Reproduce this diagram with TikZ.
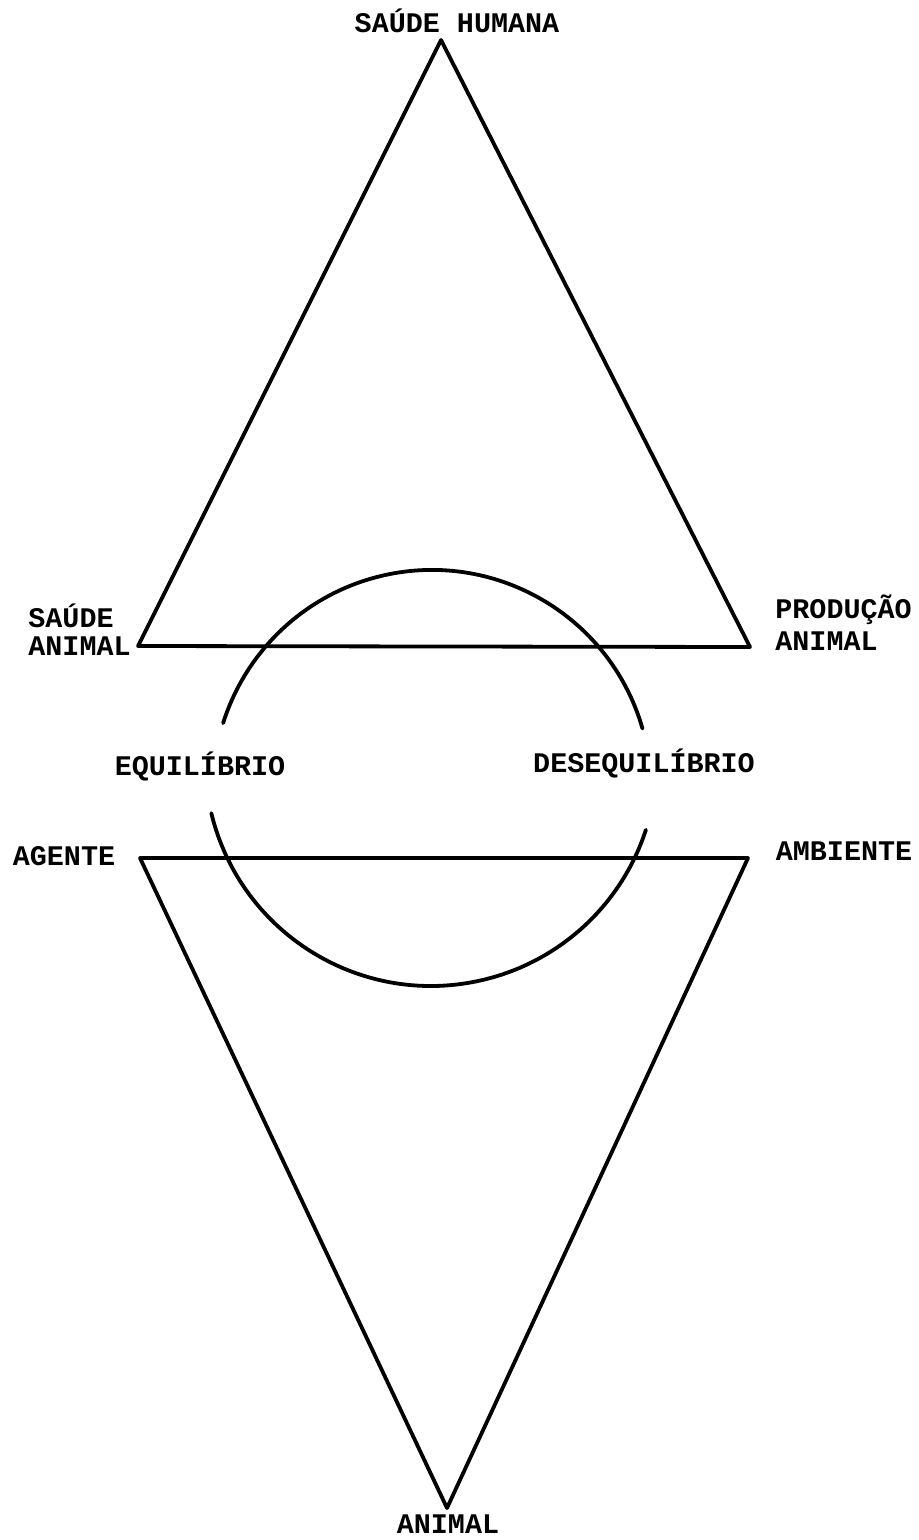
\documentclass[tikz,border=0pt]{standalone}
\usepackage{fontspec}
\newfontfamily\twfont{Liberation Mono}
\begin{document}
\begin{tikzpicture}[x=0.5pt,y=-0.5pt,
  lbl/.style={font=\twfont\bfseries\fontsize{14.2}{16}\selectfont, inner sep=0pt, anchor=base},
  lblw/.style={lbl, anchor=base west},
  edge/.style={line width=1.9pt, line join=round, line cap=round}]
\useasboundingbox (0,0) rectangle (918,1540);
% labels
\node[lbl] (sh) at (457,33) {SAÚDE HUMANA};
\node[lblw] (sa1) at (28,627) {SAÚDE};
\node[lblw] (sa2) at (28,655) {ANIMAL};
\node[lblw] (pa1) at (775,618) {PRODUÇÃO};
\node[lblw] (pa2) at (775,650) {ANIMAL};
\node[lbl] (eq) at (200,775) {EQUILÍBRIO};
\node[lbl] (deq) at (644,772) {DESEQUILÍBRIO};
\node[lbl] (ag) at (64,865) {AGENTE};
\node[lbl] (amb) at (844,860) {AMBIENTE};
\node[lbl] (an) at (448,1533) {ANIMAL};
% top triangle
\coordinate (t1) at (441,40);
\coordinate (t2) at (138,646);
\coordinate (t3) at (750,647);
\draw[edge] (t1) -- (t2) -- (t3) -- cycle;
% bottom triangle
\coordinate (b1) at (140,858);
\coordinate (b2) at (748,858);
\coordinate (b3) at (447,1508);
\draw[edge] (b1) -- (b2) -- (b3) -- cycle;
% arcs
\coordinate (a1) at (642.5,728.6);
\draw[edge] (a1) arc[start angle=16, end angle=162.5, radius=109.5pt];
\coordinate (a2) at (211.3,813.1);
\draw[edge] (a2) arc[start angle=193.6, end angle=342, radius=113pt];
\end{tikzpicture}
\end{document}
